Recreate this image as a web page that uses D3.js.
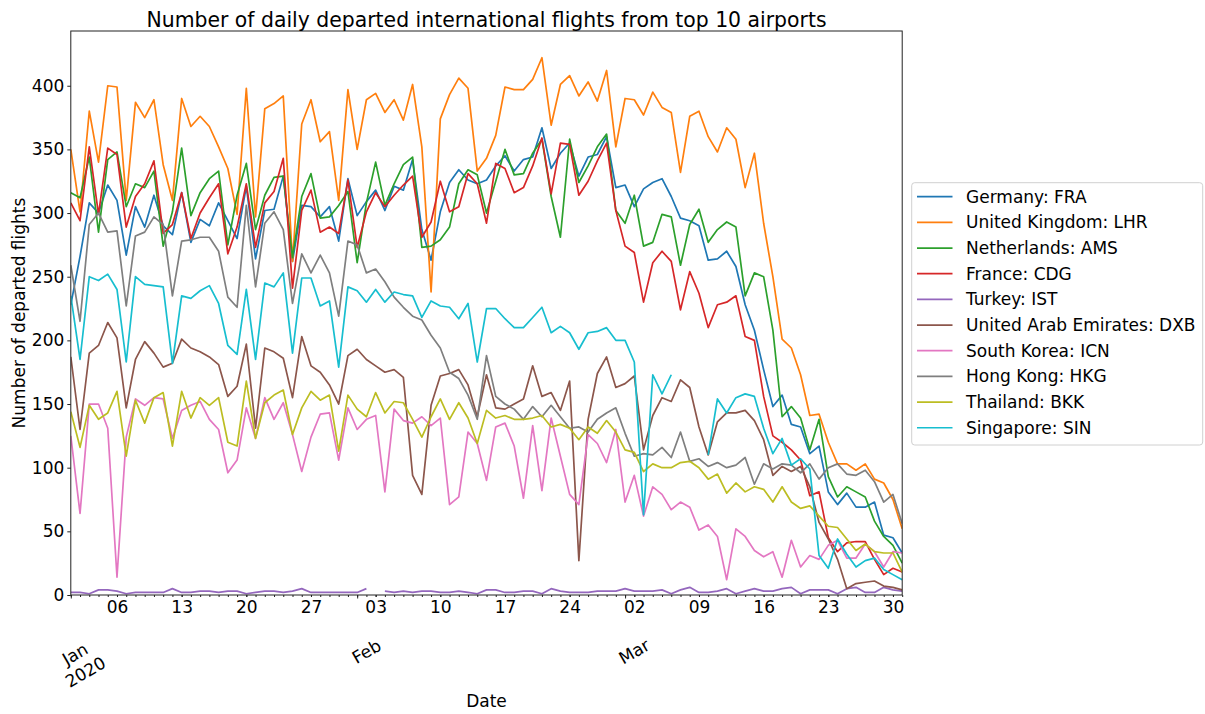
<!DOCTYPE html>
<html><head><meta charset="utf-8">
<script src="https://cdn.jsdelivr.net/npm/d3@7"></script>
<style>
body{margin:0;background:#fff}
svg{display:block}
text{font-family:"DejaVu Sans",sans-serif;fill:#000}
</style>
</head><body>
<svg id="chart" width="1205" height="714"></svg>
<script>
// ---------- data ----------
const firstDay = "2020-01-01";
const lastDay = "2020-03-31";
const seriesNames = ["Germany: FRA","United Kingdom: LHR","Netherlands: AMS","France: CDG","Turkey: IST",
  "United Arab Emirates: DXB","South Korea: ICN","Hong Kong: HKG","Thailand: BKK","Singapore: SIN"];
const colors = ["#1f77b4","#ff7f0e","#2ca02c","#d62728","#9467bd","#8c564b","#e377c2","#7f7f7f","#bcbd22","#17becf"];
const yTicks = [0,50,100,150,200,250,300,350,400];

const FRA = [228,266,308,300,322,310,267,305,289,314,290,283,316,277,295,290,308,294,280,321,264,302,303,
  329,262,306,305,297,305,278,327,298,309,318,302,321,318,342,287,263,301,324,334,326,323,326,
  337,345,333,342,344,367,335,347,355,329,344,346,360,320,322,305,319,324,327,313,296,294,290,
  263,264,270,258,228,208,177,148,157,134,132,111,117,81,71,80,69,69,73,47,45,33];
const LHR = [350,301,380,340,400,399,310,387,375,389,338,310,390,368,376,368,352,335,299,398,297,382,386,
  392,262,370,389,356,364,310,397,350,389,394,379,389,373,401,352,238,374,393,406,398,333,343,
  361,399,397,397,405,422,369,401,408,392,403,388,412,352,390,389,377,395,383,379,332,376,380,
  360,348,367,358,320,347,292,250,201,194,173,141,142,120,103,103,98,103,91,88,75,52];
const AMS = [316,312,344,285,342,348,305,323,320,333,274,301,351,298,316,327,333,275,314,339,287,314,328,
  329,265,313,331,296,297,306,317,261,308,340,306,323,338,344,273,274,279,289,323,334,330,300,
  325,350,330,331,347,358,313,281,358,324,337,352,362,302,292,314,274,277,299,297,259,291,303,
  277,287,293,289,235,253,250,208,140,148,139,114,138,93,77,85,81,77,58,46,39,25];
const CDG = [308,294,352,299,351,346,289,313,323,341,284,291,316,280,300,312,323,268,289,323,273,308,317,
  343,241,302,318,285,289,284,326,273,301,316,305,314,322,329,281,293,325,301,305,331,323,292,
  339,335,316,320,337,359,315,355,354,314,325,341,355,302,274,269,230,261,270,262,224,254,237,
  210,228,230,235,203,200,156,125,120,114,106,78,81,45,34,41,42,42,28,16,21,18];
const IST = [2,2,1,4,4,3,1,2,2,2,2,5,2,2,3,3,2,3,3,1,2,3,3,
  2,3,5,2,2,2,2,2,2,5,null,3,2,3,2,3,3,2,2,3,2,1,4,
  4,2,2,3,3,1,5,3,2,2,2,3,3,3,5,3,3,3,4,1,4,6,2,
  2,3,5,1,3,5,3,3,5,6,1,4,4,4,1,5,6,2,2,6,4,3];
const DXB = [187,130,190,196,214,202,147,185,199,190,179,182,201,194,191,187,181,156,164,197,131,194,191,
  186,155,203,180,175,165,150,188,193,185,180,175,177,171,94,79,149,172,174,177,165,140,173,
  147,146,150,154,180,156,159,145,168,27,138,174,187,163,166,172,114,141,155,152,169,163,132,
  110,136,143,143,145,137,122,94,101,97,101,85,57,44,28,5,9,10,11,7,6,4];
const ICN = [125,64,150,150,131,14,124,154,149,155,154,123,145,149,152,138,130,96,106,147,123,155,138,
  151,126,97,124,142,143,106,147,130,138,141,81,146,137,135,140,133,139,71,77,128,119,90,
  132,135,117,76,133,82,139,109,79,71,126,119,104,130,73,94,62,85,79,67,73,69,51,
  55,46,12,52,46,35,30,34,14,43,22,31,28,39,43,29,29,40,34,22,34,33];
const HKG = [259,215,291,300,285,286,227,282,285,297,291,235,278,279,281,281,270,234,226,306,242,292,301,
  287,229,268,253,267,253,219,278,275,253,256,246,234,226,219,216,204,194,175,170,157,138,188,
  156,150,146,138,148,140,149,140,131,132,128,138,143,147,127,109,111,110,116,108,128,105,107,
  101,104,100,102,108,87,103,99,103,102,96,103,91,100,103,95,94,98,89,73,79,56];
const BKK = [144,116,149,138,143,160,109,153,135,155,159,117,160,139,155,149,155,120,117,168,123,151,157,
  161,126,147,160,153,157,113,157,146,140,159,143,152,151,138,124,140,154,138,151,139,119,145,
  139,141,138,138,139,141,132,134,131,122,132,127,137,128,114,112,97,103,100,100,104,105,100,
  91,95,80,88,81,85,83,73,85,73,68,70,62,54,53,44,35,40,34,33,33,18];
const SIN = [235,185,250,247,252,240,183,250,244,243,242,182,235,233,239,243,229,196,189,240,185,245,242,
  253,190,249,249,227,231,179,242,239,230,240,230,238,236,235,218,231,227,226,217,229,183,225,
  225,217,210,210,218,226,206,211,206,193,206,207,210,200,200,183,63,173,158,173,null,null,null,
  110,154,143,155,158,156,131,111,123,102,107,99,31,21,44,32,22,27,29,20,16,12];

const seriesValues = [FRA,LHR,AMS,CDG,IST,DXB,ICN,HKG,BKK,SIN];

// ---------- layout ----------
const svg = d3.select("#chart");
const plot = {left:70.8, right:902.2, top:31, bottom:595};
const parse = d3.utcParse("%Y-%m-%d");
const d0 = parse(firstDay), d1 = parse(lastDay);
const dates = d3.utcDay.range(d0, d3.utcDay.offset(d1, 1));

const x = d3.scaleUtc().domain([d0, d1]).range([plot.left, plot.right]);
const y = d3.scaleLinear().domain([0, 443]).range([plot.bottom, plot.top]);

const FS = 17;

// clip
svg.append("defs").append("clipPath").attr("id","clip")
  .append("rect").attr("x",plot.left).attr("y",plot.top)
  .attr("width",plot.right-plot.left).attr("height",plot.bottom-plot.top);

// lines
const line = d3.line()
  .defined(d => d.v !== null && d.v !== undefined)
  .x(d => x(d.date)).y(d => y(d.v));

const gLines = svg.append("g").attr("clip-path","url(#clip)");
seriesValues.forEach((vals, i) => {
  const pts = dates.map((dt, k) => ({date: dt, v: vals[k]}));
  gLines.append("path").datum(pts)
    .attr("fill","none").attr("stroke",colors[i]).attr("stroke-width",1.7)
    .attr("stroke-linejoin","round")
    .attr("d", line);
});

// frame
svg.append("rect").attr("x",plot.left).attr("y",plot.top)
  .attr("width",plot.right-plot.left).attr("height",plot.bottom-plot.top)
  .attr("fill","none").attr("stroke","#222").attr("stroke-width",1);

// y axis
const yAxis = svg.append("g").attr("transform",`translate(${plot.left},0)`)
  .call(d3.axisLeft(y).tickValues(yTicks).tickSize(3.5).tickPadding(3));
yAxis.select(".domain").remove();
yAxis.selectAll("text").style("font-size",FS+"px").style("font-family","DejaVu Sans");
yAxis.selectAll("line").attr("stroke","#222");

// x axis: daily minor ticks
const xMinor = svg.append("g").attr("transform",`translate(0,${plot.bottom})`)
  .call(d3.axisBottom(x).tickValues(dates).tickSize(2).tickFormat(""));
xMinor.select(".domain").remove();
xMinor.selectAll("line").attr("stroke","#222");

// weekly labels
const mondays = d3.utcMonday.range(d0, d3.utcDay.offset(d1,1));
const xWeek = svg.append("g").attr("transform",`translate(0,${plot.bottom})`)
  .call(d3.axisBottom(x).tickValues(mondays).tickSize(2).tickPadding(4.2).tickFormat(d3.utcFormat("%d")));
xWeek.select(".domain").remove();
xWeek.selectAll("line").attr("stroke","#222");
xWeek.selectAll("text").style("font-size",FS+"px").style("font-family","DejaVu Sans");

// monthly major ticks + rotated labels
const months = d3.utcMonth.range(d0, d3.utcDay.offset(d1,1));
const xMonth = svg.append("g").attr("transform",`translate(0,${plot.bottom})`)
  .call(d3.axisBottom(x).tickValues(months).tickSize(3.5).tickFormat(""));
xMonth.select(".domain").remove();
xMonth.selectAll("line").attr("stroke","#222");

const monthLabels = [
  {date: months[0], lines: ["Jan","2020"], dx: 4.2, cy: 654},
  {date: months[1], lines: ["Feb"], dx: 9.3, cy: 651.5},
  {date: months[2], lines: ["Mar"], dx: 9.0, cy: 651.5}
];
monthLabels.forEach(m => {
  m.lines.forEach((t, k) => {
    const cx = x(m.date) + m.dx + k*10.4;
    const cy = m.cy + k*18;
    svg.append("text").attr("transform",`translate(${cx},${cy}) rotate(-30)`)
      .attr("text-anchor","middle").attr("dominant-baseline","central")
      .style("font-size",FS+"px").text(t);
  });
});

// axis titles
svg.append("text").attr("x",(plot.left+plot.right)/2).attr("y",707)
  .attr("text-anchor","middle").style("font-size",FS+"px").text("Date");
svg.append("text").attr("transform",`translate(25,${(plot.top+plot.bottom)/2}) rotate(-90)`)
  .attr("text-anchor","middle").style("font-size",FS+"px").text("Number of departed flights");

// title
svg.append("text").attr("x",(plot.left+plot.right)/2).attr("y",27)
  .attr("text-anchor","middle").style("font-size","20.4px")
  .text("Number of daily departed international flights from top 10 airports");

// legend
const lg = svg.append("g");
lg.append("rect").attr("x",911.7).attr("y",182.7).attr("width",291).attr("height",262.3)
  .attr("rx",3).attr("fill","#fff").attr("fill-opacity",0.8)
  .attr("stroke","#d0d0d0").attr("stroke-width",1);
seriesNames.forEach((name, i) => {
  const cy = 196.7 + i*25.67;
  lg.append("line").attr("x1",917).attr("x2",952.5).attr("y1",cy).attr("y2",cy)
    .attr("stroke",colors[i]).attr("stroke-width",1.7);
  lg.append("text").attr("x",966).attr("y",cy).attr("dominant-baseline","central")
    .style("font-size",FS+"px").text(name);
});
</script>
</body></html>
